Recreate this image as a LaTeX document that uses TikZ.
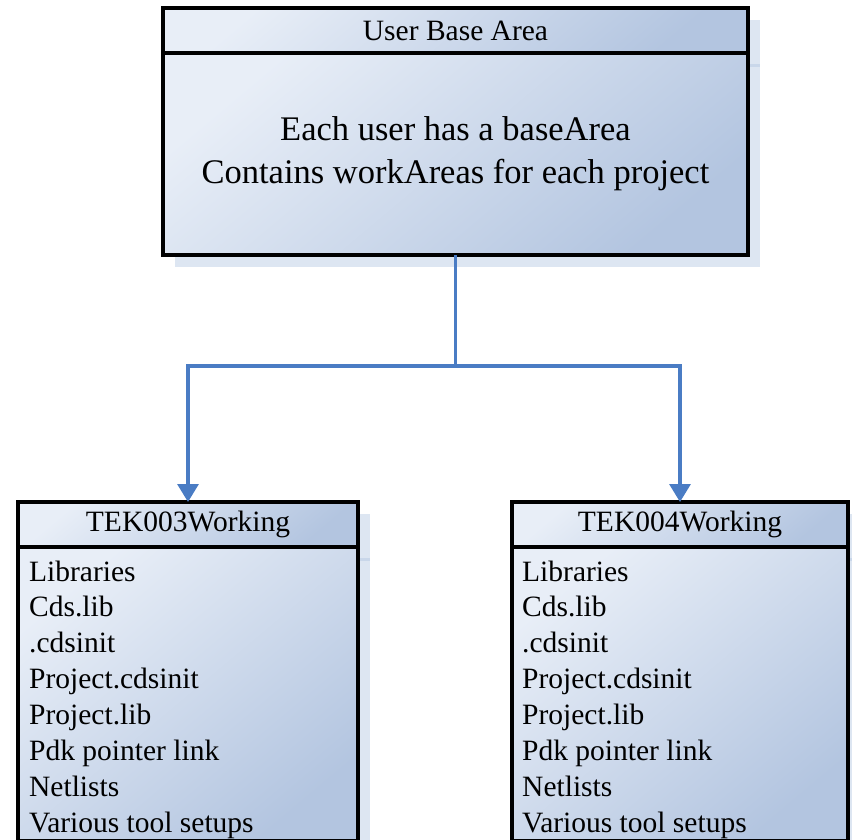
\documentclass[tikz,border=0pt]{standalone}
\usepackage{fontspec}
\setmainfont{Liberation Serif}
\usetikzlibrary{arrows.meta,backgrounds}
\definecolor{boxlight}{HTML}{E8EEF7}
\definecolor{boxdark}{HTML}{B3C5E0}
\definecolor{shadowfill}{HTML}{DDE6F2}
\definecolor{shadowline}{HTML}{C9D7EA}
\definecolor{linkblue}{HTML}{4A7CC4}

\tikzset{
  panel/.style={draw=black, line width=3.8pt, top color=boxlight, bottom color=boxdark,
                shading angle=40, inner sep=0pt, outer sep=0pt},
  headtext/.style={font=\fontsize{29.5}{35}\selectfont},
  bodytext/.style={font=\fontsize{34.5}{43}\selectfont, align=center},
  itemtext/.style={font=\fontsize{29.5}{36}\selectfont, inner sep=0pt, anchor=base west},
  link/.style={draw=linkblue, line width=3.2pt},
  linkarrow/.style={-{Triangle[width=21pt,length=18pt]}},
  shadowbox/.style={fill=shadowfill},
  shadowdiv/.style={draw=shadowline, line width=3pt},
}

\begin{document}
\begin{tikzpicture}[x=1pt,y=-1pt]
\useasboundingbox (0,0) rectangle (852,839);

% User base area
\node[panel, headtext, minimum width=585pt, minimum height=45pt] (uhead) at (455.5,30.5) {User Base Area};
\node[panel, bodytext, minimum width=585pt, minimum height=202pt] (ubody) at (455.5,154)
  {Each user has a baseArea\\Contains workAreas for each project};

% Project work areas
\node[panel, headtext, minimum width=340pt, minimum height=45pt] (w3head) at (188,524.5) {TEK003Working};
\node[panel, minimum width=340pt, minimum height=294pt] (w3body) at (188,694) {};
\node[panel, headtext, minimum width=336pt, minimum height=45pt] (w4head) at (680,524.5) {TEK004Working};
\node[panel, minimum width=336pt, minimum height=294pt] (w4body) at (680,694) {};

\foreach \txt [count=\k] in {Libraries, Cds.lib, .cdsinit, Project.cdsinit, Project.lib,
                             Pdk pointer link, Netlists, Various tool setups} {
  \node[itemtext] (l\k) at (29,{545.1+35.9*\k}) {\txt};
  \node[itemtext] (r\k) at (522,{545.1+35.9*\k}) {\txt};
}

% Connectors
\path (ubody.south) ++(0,111) coordinate (fork);
\draw[link] (ubody.south) -- (fork);
\draw[link, linkarrow] (fork) -| (w3head.north);
\draw[link, linkarrow] (fork) -| (w4head.north);

% Drop shadows
\begin{scope}[on background layer]
  \foreach \h/\b in {uhead/ubody, w3head/w3body, w4head/w4body} {
    \fill[shadowbox] ([shift={(12,12)}]\h.north west) rectangle ([shift={(12,12)}]\b.south east);
    \draw[shadowdiv] ([shift={(12,12)}]\h.south west) -- ([shift={(12,12)}]\h.south east);
  }
\end{scope}
\end{tikzpicture}
\end{document}
